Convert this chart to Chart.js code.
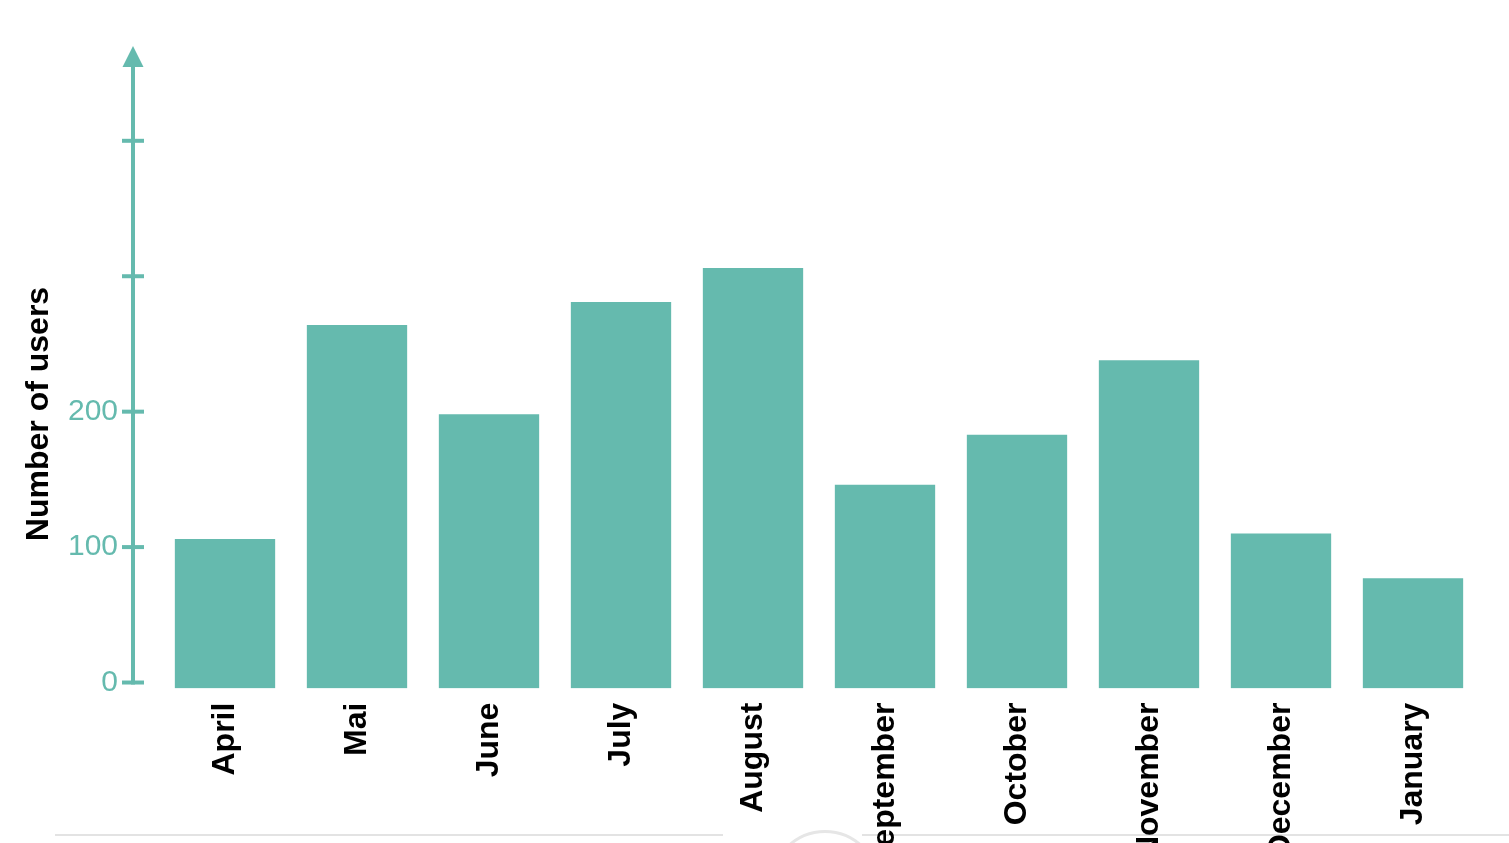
<!DOCTYPE html>
<html>
<head>
<meta charset="utf-8">
<script src="https://cdn.jsdelivr.net/npm/chart.js@4"></script>
<style>
  html, body { margin: 0; padding: 0; background: #fff; overflow: hidden; width: 1509px; height: 843px; }
  #wrap { position: absolute; left: 0; top: 0; width: 1509px; height: 874px; z-index: 2; }
  .hl { position: absolute; height: 2px; background: #e3e3e3; top: 834px; z-index: 1; }
  .circ { position: absolute; left: 770px; top: 830px; width: 110px; height: 110px; border-radius: 50%; border: 3px solid #e6e6e6; box-sizing: border-box; background: #fff; z-index: 1; }
</style>
</head>
<body>
<div class="hl" style="left:55px; width:668px;"></div>
<div class="hl" style="left:862px; width:647px;"></div>
<div class="circ"></div>
<div id="wrap"><canvas id="c" width="1509" height="874"></canvas></div>
<script>
const months = ['April', 'Mai', 'June', 'July', 'August', 'September', 'October', 'November', 'December', 'January'];
const users = [106, 264, 198, 281, 306, 146, 183, 238, 110, 77];
const yTickValues = [0, 100, 200, 300, 400];
const yTickLabels = ['0', '100', '200', '', ''];
const yTitle = 'Number of users';

const TEAL = 'rgb(101,186,174)';
const FONT = '"Liberation Sans", Arial, Helvetica, sans-serif';

const axisPlugin = {
  id: 'arrowAxis',
  afterDatasetsDraw(chart) {
    const ctx = chart.ctx;
    const ys = chart.scales.y;
    const area = chart.chartArea;
    const x = area.left - 26;
    const y0 = ys.getPixelForValue(0);
    const top = area.top;
    ctx.save();
    ctx.strokeStyle = TEAL;
    ctx.fillStyle = TEAL;
    ctx.lineWidth = 4;
    ctx.beginPath();
    ctx.moveTo(x, y0 + 2);
    ctx.lineTo(x, top);
    ctx.stroke();
    yTickValues.forEach(v => {
      const p = ys.getPixelForValue(v);
      ctx.beginPath();
      ctx.moveTo(x - 11, p);
      ctx.lineTo(x + 11, p);
      ctx.stroke();
    });
    ctx.beginPath();
    ctx.moveTo(x, top - 21);
    ctx.lineTo(x - 10.5, top);
    ctx.lineTo(x + 10.5, top);
    ctx.closePath();
    ctx.fill();
    // axis title
    ctx.fillStyle = '#000';
    ctx.font = 'bold 32px ' + FONT;
    ctx.textAlign = 'center';
    ctx.textBaseline = 'alphabetic';
    ctx.translate(48, 414);
    ctx.rotate(-Math.PI / 2);
    ctx.fillText(yTitle, 0, 0);
    ctx.restore();
  }
};

new Chart(document.getElementById('c'), {
  type: 'bar',
  data: {
    labels: months,
    datasets: [{
      data: users,
      backgroundColor: TEAL,
      borderWidth: 0,
      base: -4.3,
      barPercentage: 0.76,
      categoryPercentage: 1
    }]
  },
  options: {
    responsive: false,
    devicePixelRatio: 1,
    animation: false,
    layout: { padding: { top: 67, right: 30, left: 0, bottom: 0 } },
    plugins: { legend: { display: false }, tooltip: { enabled: false }, title: { display: false } },
    scales: {
      x: {
        grid: { display: false },
        border: { display: false },
        ticks: {
          color: '#000',
          font: { family: FONT, size: 32, weight: 'bold' },
          padding: 6,
          minRotation: 90,
          maxRotation: 90,
          autoSkip: false
        }
      },
      y: {
        min: -4.5,
        max: 454.5,
        grid: { display: false },
        border: { display: false },
        afterBuildTicks(scale) {
          scale.ticks = yTickValues.map(v => ({ value: v }));
        },
        afterFit(scale) { scale.width = 159; },
        ticks: {
          color: TEAL,
          font: { family: FONT, size: 30 },
          padding: 33,
          callback(value) {
            const i = yTickValues.indexOf(value);
            return i >= 0 ? yTickLabels[i] : '';
          }
        }
      }
    }
  },
  plugins: [axisPlugin]
});
</script>
</body>
</html>
